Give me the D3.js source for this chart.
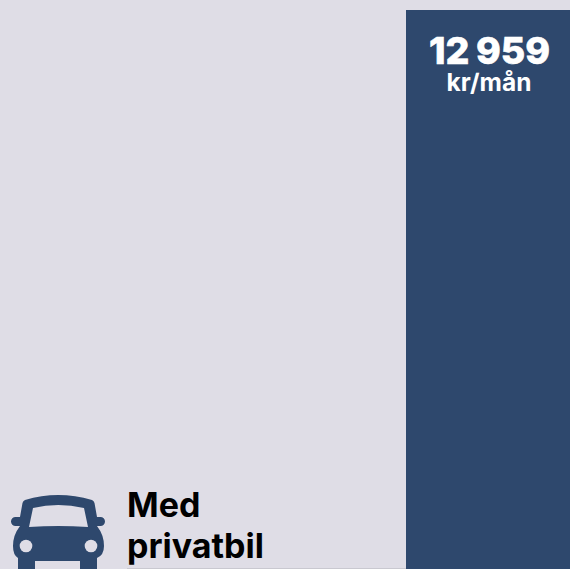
<!DOCTYPE html>
<html><head><meta charset="utf-8">
<script src="https://cdnjs.cloudflare.com/ajax/libs/d3/7.8.5/d3.min.js"></script>
<style>html,body{margin:0;padding:0;background:#dfdde6;overflow:hidden}svg{display:block}</style>
</head><body><svg id="c" width="570" height="569"></svg>
<script>
const categories = ["Med privatbil"];
const values = [12959];
const valueLabels = ["12 959"];
const unitLabel = "kr/mån";
const W = 570, H = 569;
const svg = d3.select("#c");
const x = d3.scaleBand().domain(categories).range([406, 570]);
const y = d3.scaleLinear().domain([0, 12959]).range([H, 10]);
svg.append("rect").attr("width", W).attr("height", H).attr("fill", "#dfdde6");
const navy = "#2e486d", bg = "#dfdde6", font = "Inter, sans-serif";
svg.append("line").attr("x1", 127).attr("x2", 406).attr("y1", 568.5).attr("y2", 568.5).attr("stroke", "#c9c8d0").attr("stroke-width", 1);
svg.selectAll("rect.bar").data(values).join("rect").attr("class", "bar")
  .attr("x", x(categories[0])).attr("width", x.bandwidth())
  .attr("y", d => y(d)).attr("height", d => H - y(d)).attr("fill", navy);
const cx = x(categories[0]) + x.bandwidth() / 2;
svg.append("text").attr("x", cx + 1.5).attr("y", 63.5).attr("text-anchor", "middle")
  .attr("font-family", font).attr("font-weight", 800).attr("font-size", 37.5).attr("word-spacing", -1.5)
  .attr("stroke", "#fff").attr("stroke-width", 0.6).attr("fill", "#fff").text(valueLabels[0]);
svg.append("text").attr("x", cx + 1).attr("y", 90.5).attr("text-anchor", "middle")
  .attr("font-family", font).attr("font-weight", 700).attr("font-size", 24.5).attr("fill", "#fff").text(unitLabel);
const words = categories[0].split(" ");
svg.selectAll("text.cat").data(words).join("text").attr("class", "cat")
  .attr("x", 127).attr("y", (d, i) => 517 + i * 41)
  .attr("font-family", font).attr("font-weight", 700).attr("font-size", 34).attr("fill", "#000").text(d => d);
// car icon
const g = svg.append("g");
g.append("path").attr("fill", navy).attr("d",
 "M25 500 Q58 490 92 500 Q94 501 94.5 503 L97 517 L100.5 517 A4.5 4.5 0 0 1 100.5 526 L97 526 Q104 535 104 546 Q104 555 97 558 L97 569 L80 569 L80 561 L35 561 L35 569 L18 569 L18 558 Q13 555 13 546 Q13 535 20 526 L15.5 526 A4.5 4.5 0 0 1 15.5 517 L20 517 L22.5 503 Q23 501 25 500 Z");
g.append("path").attr("fill", bg).attr("d", "M33 508 Q58 502 84 508 L88 527 Q58 525 29 527 Z");
g.selectAll("circle").data([26, 91]).join("circle").attr("cx", d => d).attr("cy", 546).attr("r", 6.3).attr("fill", bg);
</script></body></html>
